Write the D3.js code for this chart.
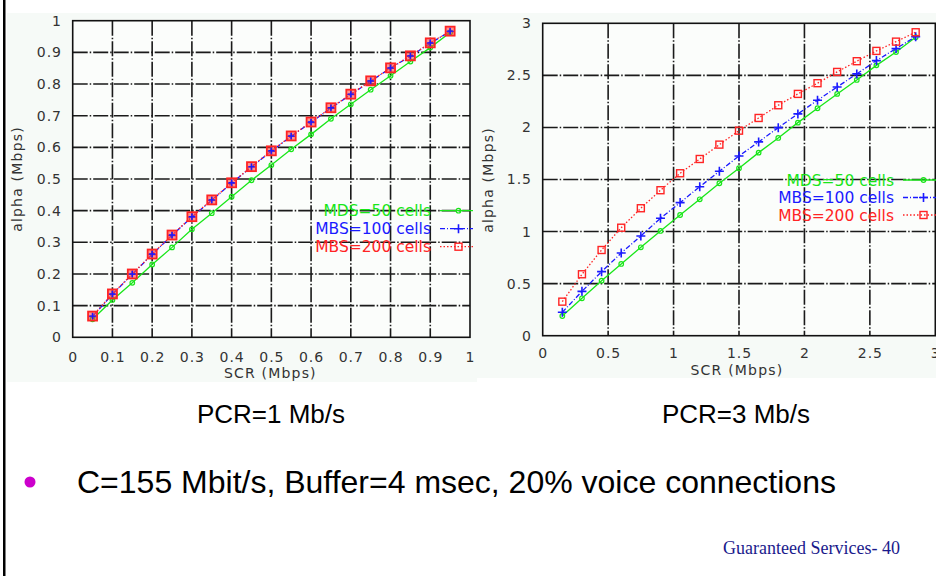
<!DOCTYPE html>
<html>
<head>
<meta charset="utf-8">
<script src="https://cdn.jsdelivr.net/npm/d3@7"></script>
<style>
  body { margin: 0; background: #fff; }
  svg { display: block; }
</style>
</head>
<body>
<svg id="slide" width="936" height="576"></svg>
<script>
// PCR = 1 Mb/s
var pcr1Scr = [0.05, 0.1, 0.15, 0.2, 0.25, 0.3, 0.35, 0.4, 0.45, 0.5, 0.55, 0.6, 0.65, 0.7, 0.75, 0.8, 0.85, 0.9, 0.95];
var pcr1Mbs50 = [0.057, 0.118, 0.172, 0.23, 0.284, 0.341, 0.392, 0.444, 0.496, 0.544, 0.594, 0.641, 0.69, 0.736, 0.782, 0.826, 0.871, 0.915, 0.963];
var pcr1Mbs100 = [0.066, 0.136, 0.199, 0.262, 0.322, 0.38, 0.433, 0.487, 0.538, 0.588, 0.635, 0.679, 0.724, 0.767, 0.809, 0.85, 0.888, 0.929, 0.966];
var pcr1Mbs200 = [0.067, 0.137, 0.2, 0.263, 0.323, 0.381, 0.434, 0.488, 0.539, 0.589, 0.636, 0.68, 0.725, 0.768, 0.81, 0.851, 0.889, 0.93, 0.967];
var pcr1XTicks = [0, 0.1, 0.2, 0.3, 0.4, 0.5, 0.6, 0.7, 0.8, 0.9, 1];
var pcr1YTicks = [0, 0.1, 0.2, 0.3, 0.4, 0.5, 0.6, 0.7, 0.8, 0.9, 1];

// PCR = 3 Mb/s
var pcr3Scr = [0.15, 0.3, 0.45, 0.6, 0.75, 0.9, 1.05, 1.2, 1.35, 1.5, 1.65, 1.8, 1.95, 2.1, 2.25, 2.4, 2.55, 2.7, 2.85];
var pcr3Mbs50 = [0.189, 0.359, 0.528, 0.689, 0.849, 1.006, 1.159, 1.31, 1.464, 1.608, 1.758, 1.899, 2.046, 2.184, 2.322, 2.456, 2.596, 2.724, 2.866];
var pcr3Mbs100 = [0.225, 0.426, 0.615, 0.794, 0.958, 1.128, 1.278, 1.431, 1.579, 1.726, 1.861, 1.998, 2.13, 2.261, 2.389, 2.514, 2.642, 2.757, 2.872];
var pcr3Mbs200 = [0.327, 0.59, 0.823, 1.037, 1.224, 1.397, 1.56, 1.697, 1.835, 1.969, 2.091, 2.213, 2.322, 2.425, 2.533, 2.636, 2.735, 2.824, 2.914];
var pcr3XTicks = [0, 0.5, 1, 1.5, 2, 2.5, 3];
var pcr3YTicks = [0, 0.5, 1, 1.5, 2, 2.5, 3];

var seriesNames = ['MDS=50 cells', 'MBS=100 cells', 'MBS=200 cells'];
var seriesColors = ['#19e619', '#1a1aff', '#ff2424'];
var seriesDash = [null, '5,2,1,2', '1.5,2'];

var svg = d3.select('#slide');

// slide left border
svg.append('rect').attr('x', 3).attr('y', 0).attr('width', 2.5).attr('height', 576).attr('fill', '#000');

function drawChart(cfg) {
    var g = svg.append('g');
    g.append('rect').attr('x', cfg.panel[0]).attr('y', cfg.panel[1])
        .attr('width', cfg.panel[2]).attr('height', cfg.panel[3]).attr('fill', '#f6faf7');

    var x = d3.scaleLinear().domain(cfg.xDomain).range([cfg.left, cfg.right]);
    var y = d3.scaleLinear().domain(cfg.yDomain).range([cfg.bottom, cfg.top]);

    var plot = g.append('g');
    plot.append('rect').attr('x', cfg.left).attr('y', cfg.top)
        .attr('width', cfg.right - cfg.left).attr('height', cfg.bottom - cfg.top).attr('fill', '#fbfdfb');

    // grid
    var gridStyle = function(sel) {
        sel.attr('stroke', '#1a1a1a').attr('stroke-width', 1.6).attr('stroke-dasharray', '15,2,1.5,2');
    };
    plot.selectAll('.gx').data(cfg.xTicks.slice(1, -1)).enter().append('line')
        .attr('x1', function(d) { return x(d); }).attr('x2', function(d) { return x(d); })
        .attr('y1', cfg.top).attr('y2', cfg.bottom).call(gridStyle);
    plot.selectAll('.gy').data(cfg.yTicks.slice(1, -1)).enter().append('line')
        .attr('y1', function(d) { return y(d); }).attr('y2', function(d) { return y(d); })
        .attr('x1', cfg.left).attr('x2', cfg.right).call(gridStyle);

    plot.append('rect').attr('x', cfg.left).attr('y', cfg.top)
        .attr('width', cfg.right - cfg.left).attr('height', cfg.bottom - cfg.top)
        .attr('fill', 'none').attr('stroke', '#111').attr('stroke-width', 1.6);

    // axes (labels only)
    var fmt = function(d) { return String(d); };
    var xAxis = g.append('g').attr('transform', 'translate(0,' + cfg.xLabelY + ')')
        .call(d3.axisBottom(x).tickValues(cfg.xTicks).tickFormat(fmt).tickSize(0).tickPadding(0));
    var yAxis = g.append('g').attr('transform', 'translate(' + cfg.yLabelX + ',0)')
        .call(d3.axisLeft(y).tickValues(cfg.yTicks).tickFormat(fmt).tickSize(0).tickPadding(0));
    [xAxis, yAxis].forEach(function(a) {
        a.select('.domain').remove();
        a.selectAll('text').attr('fill', '#333').attr('font-family', 'DejaVu Sans')
            .attr('font-size', 14).attr('letter-spacing', 1);
    });
    xAxis.selectAll('text').attr('dy', 0).attr('y', 0);

    g.append('text').attr('x', (cfg.left + cfg.right) / 2 + cfg.xTitleShift).attr('y', cfg.xTitleY)
        .attr('text-anchor', 'middle').attr('fill', '#333').attr('font-family', 'DejaVu Sans')
        .attr('font-size', 14).attr('letter-spacing', 1.2).text('SCR (Mbps)');
    g.append('text').attr('transform', 'translate(' + cfg.yTitleX + ',' + cfg.yTitleY + ') rotate(-90)')
        .attr('text-anchor', 'middle').attr('fill', '#333').attr('font-family', 'DejaVu Sans')
        .attr('font-size', 14).attr('letter-spacing', 1.2).text('alpha (Mbps)');

    // series
    cfg.series.forEach(function(vals, i) {
        var pts = cfg.xs.map(function(d, j) { return [x(d), y(vals[j])]; });
        var line = d3.line();
        plot.append('path').attr('d', line(pts)).attr('fill', 'none')
            .attr('stroke', seriesColors[i]).attr('stroke-width', 1.3)
            .attr('stroke-dasharray', seriesDash[i]);
        drawMarkers(plot, pts, i, cfg.big);
    });

    // legend
    cfg.series.forEach(function(vals, i) {
        var ly = cfg.legendY + i * cfg.legendStep;
        var lg = g.append('g');
        lg.append('text').attr('x', cfg.legendTextX).attr('y', ly + 5.5)
            .attr('text-anchor', 'end').attr('fill', seriesColors[i]).attr('font-family', 'DejaVu Sans')
            .attr('font-size', 15.5).text(seriesNames[i]);
        lg.append('line').attr('x1', cfg.legendLineX[0]).attr('x2', cfg.legendLineX[1])
            .attr('y1', ly).attr('y2', ly).attr('stroke', seriesColors[i]).attr('stroke-width', 1.3)
            .attr('stroke-dasharray', seriesDash[i]);
        drawMarkers(lg, [[(cfg.legendLineX[0] + cfg.legendLineX[1]) / 2 + 2, ly]], i, false);
    });
}

function drawMarkers(parent, pts, i, big) {
    var c = seriesColors[i];
    pts.forEach(function(p) {
        if (i == 0) {
            parent.append('circle').attr('cx', p[0]).attr('cy', p[1]).attr('r', 2.3)
                .attr('fill', 'none').attr('stroke', c).attr('stroke-width', 1.2);
        } else if (i == 1) {
            var s = big ? 4 : 4.5;
            parent.append('path').attr('d', 'M' + (p[0] - s) + ',' + p[1] + 'h' + (2 * s) + 'M' + p[0] + ',' + (p[1] - s) + 'v' + (2 * s))
                .attr('stroke', c).attr('stroke-width', 1.6);
        } else {
            var h = big ? 4.5 : 3.5;
            parent.append('rect').attr('x', p[0] - h).attr('y', p[1] - h).attr('width', 2 * h).attr('height', 2 * h)
                .attr('fill', big ? 'rgba(255,60,60,0.55)' : 'none').attr('stroke', c).attr('stroke-width', big ? 1.8 : 1.4);
        }
    });
    if (i == 2 && big) {
        // blue crosses on top of the red squares, as in the reference
        pts.forEach(function(p) {
            parent.append('path').attr('d', 'M' + (p[0] - 3) + ',' + p[1] + 'h6M' + p[0] + ',' + (p[1] - 3) + 'v6')
                .attr('stroke', seriesColors[1]).attr('stroke-width', 1.4);
        });
    }
}

drawChart({
    panel: [7, 13, 470, 369],
    left: 72.7, right: 470, top: 20.7, bottom: 337.3,
    xDomain: [0, 1], yDomain: [0, 1],
    xTicks: pcr1XTicks, yTicks: pcr1YTicks,
    xLabelY: 362, yLabelX: 62,
    xTitleY: 378, xTitleShift: -1, yTitleX: 22, yTitleY: 179,
    xs: pcr1Scr, series: [pcr1Mbs50, pcr1Mbs100, pcr1Mbs200], big: true,
    legendY: 210.7, legendStep: 18, legendTextX: 431, legendLineX: [440, 473]
});

drawChart({
    panel: [477, 13, 470, 365],
    left: 542.7, right: 935.3, top: 23.3, bottom: 335.7,
    xDomain: [0, 3], yDomain: [0, 3],
    xTicks: pcr3XTicks, yTicks: pcr3YTicks,
    xLabelY: 358, yLabelX: 532,
    xTitleY: 375, xTitleShift: -2, yTitleX: 493, yTitleY: 180,
    xs: pcr3Scr, series: [pcr3Mbs50, pcr3Mbs100, pcr3Mbs200], big: false,
    legendY: 180, legendStep: 17.5, legendTextX: 894, legendLineX: [903, 940]
});

// captions
svg.append('text').attr('x', 271).attr('y', 423).attr('text-anchor', 'middle')
    .attr('font-family', 'Liberation Sans').attr('font-size', 26).attr('fill', '#000').text('PCR=1 Mb/s');
svg.append('text').attr('x', 736).attr('y', 423).attr('text-anchor', 'middle')
    .attr('font-family', 'Liberation Sans').attr('font-size', 26).attr('fill', '#000').text('PCR=3 Mb/s');

svg.append('circle').attr('cx', 30).attr('cy', 482).attr('r', 5.5).attr('fill', '#cc00cc');
svg.append('text').attr('x', 77).attr('y', 493)
    .attr('font-family', 'Liberation Sans').attr('font-size', 32).attr('fill', '#000')
    .text('C=155 Mbit/s, Buffer=4 msec, 20% voice connections');

svg.append('text').attr('x', 900).attr('y', 554).attr('text-anchor', 'end')
    .attr('font-family', 'Liberation Serif').attr('font-size', 18).attr('fill', '#1a1a8c')
    .text('Guaranteed Services- 40');
</script>
</body>
</html>
